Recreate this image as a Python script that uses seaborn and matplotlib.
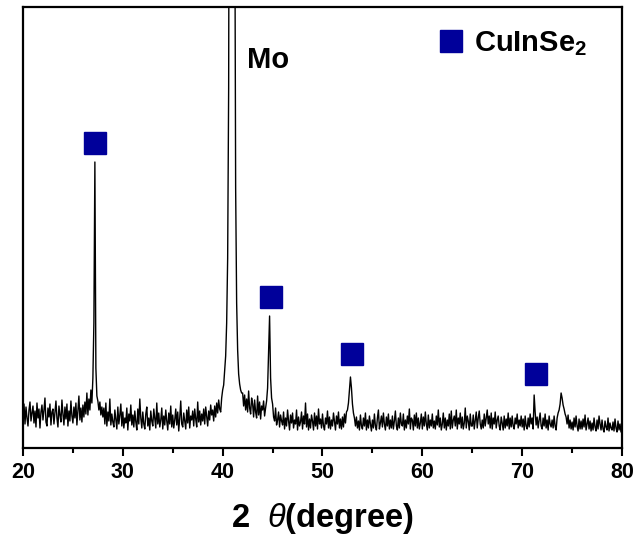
import numpy as np
import pandas as pd
import matplotlib
matplotlib.use("Agg")
import matplotlib.pyplot as plt
import seaborn as sns

# 2-theta sampling grid (degrees), one value per 0.1 degree from 20.0 to 80.0
two_theta_start = 20.0
two_theta_step = 0.1

# Intensity (arbitrary units), one row per degree (x.0 ... x.9)
intensity = [
    33, 44, 24, 41, 30, 22, 38, 46, 27, 35,   # 20
    42, 25, 37, 21, 45, 30, 39, 20, 36, 43,   # 21
    28, 38, 50, 26, 22, 40, 31, 44, 23, 36,   # 22
    39, 24, 35, 47, 30, 21, 42, 33, 26, 48,   # 23
    34, 23, 41, 29, 44, 22, 37, 27, 47, 32,   # 24
    25, 41, 30, 45, 23, 37, 52, 28, 40, 26,   # 25
    43, 31, 46, 34, 55, 33, 49, 38, 58, 45,   # 26
    70, 125, 286, 80, 52, 47, 38, 46, 33, 41, # 27
    31, 40, 24, 45, 22, 36, 27, 49, 23, 34,   # 28
    26, 21, 38, 29, 19, 41, 24, 33, 44, 22,   # 29
    36, 20, 30, 25, 40, 18, 34, 27, 43, 23,   # 30
    33, 21, 37, 26, 18, 39, 24, 49, 30, 20,   # 31
    36, 24, 19, 34, 41, 22, 30, 18, 37, 27,   # 32
    22, 39, 29, 20, 45, 24, 35, 21, 28, 40,   # 33
    19, 32, 23, 38, 27, 18, 35, 24, 42, 21,   # 34
    33, 20, 28, 39, 23, 36, 17, 30, 47, 24,   # 35
    21, 35, 27, 19, 38, 25, 41, 20, 32, 28,   # 36
    37, 22, 39, 29, 21, 46, 26, 37, 23, 34,   # 37
    27, 39, 24, 41, 32, 22, 37, 28, 43, 33,   # 38
    38, 27, 42, 31, 45, 35, 48, 39, 36, 50,   # 39
    58, 63, 78, 92, 125, 190, 360, 900, 1500, 1800,  # 40
    1700, 1200, 600, 260, 145, 98, 74, 64, 58, 55,   # 41
    55, 42, 53, 38, 49, 36, 57, 40, 34, 50,   # 42
    44, 31, 48, 36, 30, 52, 33, 46, 29, 42,   # 43
    38, 47, 32, 40, 47, 60, 95, 132, 70, 50,  # 44
    44, 31, 27, 40, 23, 28, 36, 21, 33, 27,   # 45
    23, 36, 19, 30, 22, 38, 27, 18, 33, 25,   # 46
    35, 20, 28, 24, 38, 18, 31, 22, 26, 36,   # 47
    19, 32, 24, 45, 21, 34, 18, 29, 20, 33,   # 48
    27, 18, 35, 22, 32, 19, 39, 24, 29, 20,   # 49
    34, 22, 18, 30, 24, 37, 20, 31, 19, 28,   # 50
    22, 35, 26, 18, 32, 24, 36, 20, 29, 19,   # 51
    31, 21, 34, 25, 36, 38, 45, 58, 71, 60,   # 52
    44, 35, 30, 22, 31, 20, 27, 18, 33, 22,   # 53
    19, 30, 22, 35, 18, 28, 20, 32, 24, 17,   # 54
    28, 20, 34, 22, 18, 30, 38, 19, 25, 32,   # 55
    21, 35, 24, 18, 31, 22, 34, 19, 28, 20,   # 56
    32, 19, 27, 37, 22, 18, 30, 20, 35, 24,   # 57
    22, 34, 18, 28, 20, 32, 24, 39, 19, 30,   # 58
    28, 18, 33, 22, 35, 20, 30, 19, 25, 34,   # 59
    19, 31, 22, 36, 24, 18, 33, 20, 28, 22,   # 60
    34, 20, 27, 19, 32, 23, 38, 21, 30, 18,   # 61
    24, 35, 20, 30, 18, 28, 22, 34, 19, 37,   # 62
    20, 28, 32, 22, 38, 19, 30, 24, 35, 20,   # 63
    31, 19, 25, 40, 20, 32, 27, 18, 34, 22,   # 64
    22, 33, 19, 28, 36, 20, 30, 37, 24, 19,   # 65
    28, 20, 34, 22, 30, 38, 24, 32, 20, 35,   # 66
    19, 30, 24, 36, 20, 28, 32, 22, 18, 31,   # 67
    25, 18, 32, 20, 29, 22, 35, 19, 30, 21,   # 68
    32, 22, 19, 30, 24, 34, 20, 28, 22, 32,   # 69
    21, 29, 18, 32, 22, 19, 30, 21, 34, 24,   # 70
    30, 19, 53, 36, 23, 31, 20, 28, 35, 22,   # 71
    19, 30, 22, 34, 20, 28, 18, 32, 24, 21,   # 72
    28, 20, 32, 22, 18, 30, 35, 38, 44, 55,   # 73
    50, 43, 39, 34, 31, 24, 33, 20, 28, 19,   # 74
    26, 18, 30, 21, 32, 22, 17, 29, 19, 27,   # 75
    19, 29, 21, 33, 18, 24, 30, 19, 27, 17,   # 76
    25, 18, 30, 21, 17, 28, 19, 32, 24, 18,   # 77
    28, 19, 16, 27, 21, 18, 30, 17, 25, 20,   # 78
    18, 26, 17, 29, 20, 16, 27, 18, 24, 16,   # 79
    20,                                       # 80
]

# CuInSe2 peak markers
marker_x = [27.25, 44.85, 53.0, 71.4]
marker_y = [305, 151, 94, 74]
marker_label = "CuInSe$_2$"

# Mo annotation
mo_label = "Mo"
mo_x = 42.45
mo_y = 388

x_ticks = [20, 30, 40, 50, 60, 70, 80]
x_label = "2  $\\theta$(degree)"

two_theta = two_theta_start + two_theta_step * np.arange(len(intensity))
df = pd.DataFrame({"two_theta": two_theta, "intensity": intensity})
dm = pd.DataFrame({"x": marker_x, "y": marker_y})

sns.set_theme(style="ticks")
plt.rcParams["font.family"] = ["Liberation Sans", "DejaVu Sans"]
plt.rcParams["mathtext.fontset"] = "custom"
plt.rcParams["mathtext.rm"] = "Liberation Sans:bold"
plt.rcParams["mathtext.it"] = "Liberation Sans:italic"
plt.rcParams["mathtext.bf"] = "Liberation Sans:bold"
plt.rcParams["text.color"] = "black"
plt.rcParams["axes.labelcolor"] = "black"
plt.rcParams["xtick.color"] = "black"
plt.rcParams["xtick.labelcolor"] = "black"

fig = plt.figure(figsize=(6.35, 5.45), dpi=100)
ax = fig.add_axes([23 / 635, (545 - 448) / 545, 599 / 635, 441 / 545])

sns.lineplot(data=df, x="two_theta", y="intensity", color="black", lw=1.0,
             ax=ax, legend=False)
ax.plot(dm["x"], dm["y"], linestyle="none", marker="s", markersize=16,
        color="#00009a", markeredgecolor="#00009a", label=marker_label)

ax.text(mo_x, mo_y, mo_label, fontsize=21, fontweight="bold", ha="left",
        va="center", color="black")

ax.set_xlim(20, 80)
ax.set_ylim(0, 441)
ax.set_yticks([])
ax.set_xticks(x_ticks)
ax.set_xticks(np.arange(25, 80, 10), minor=True)
ax.set_xticklabels([str(t) for t in x_ticks], fontsize=15.5, fontweight="bold",
                   color="black")
ax.tick_params(axis="x", which="major", direction="out", length=6, width=1.5,
               pad=4, colors="black")
ax.tick_params(axis="x", which="minor", direction="out", length=3.5, width=1.5,
               colors="black")
for s in ax.spines.values():
    s.set_linewidth(1.6)
    s.set_color("black")

ax.set_ylabel("")
ax.set_xlabel(x_label, fontsize=23.5, fontweight="bold", labelpad=13,
              color="black")

leg = ax.legend(loc="center left", bbox_to_anchor=(0.675, 0.918), frameon=False,
                handlelength=0.8, handletextpad=0.4, borderaxespad=0,
                prop={"size": 21, "weight": "bold"})
for t in leg.get_texts():
    t.set_color("black")

fig.savefig("out.png", dpi=100)
